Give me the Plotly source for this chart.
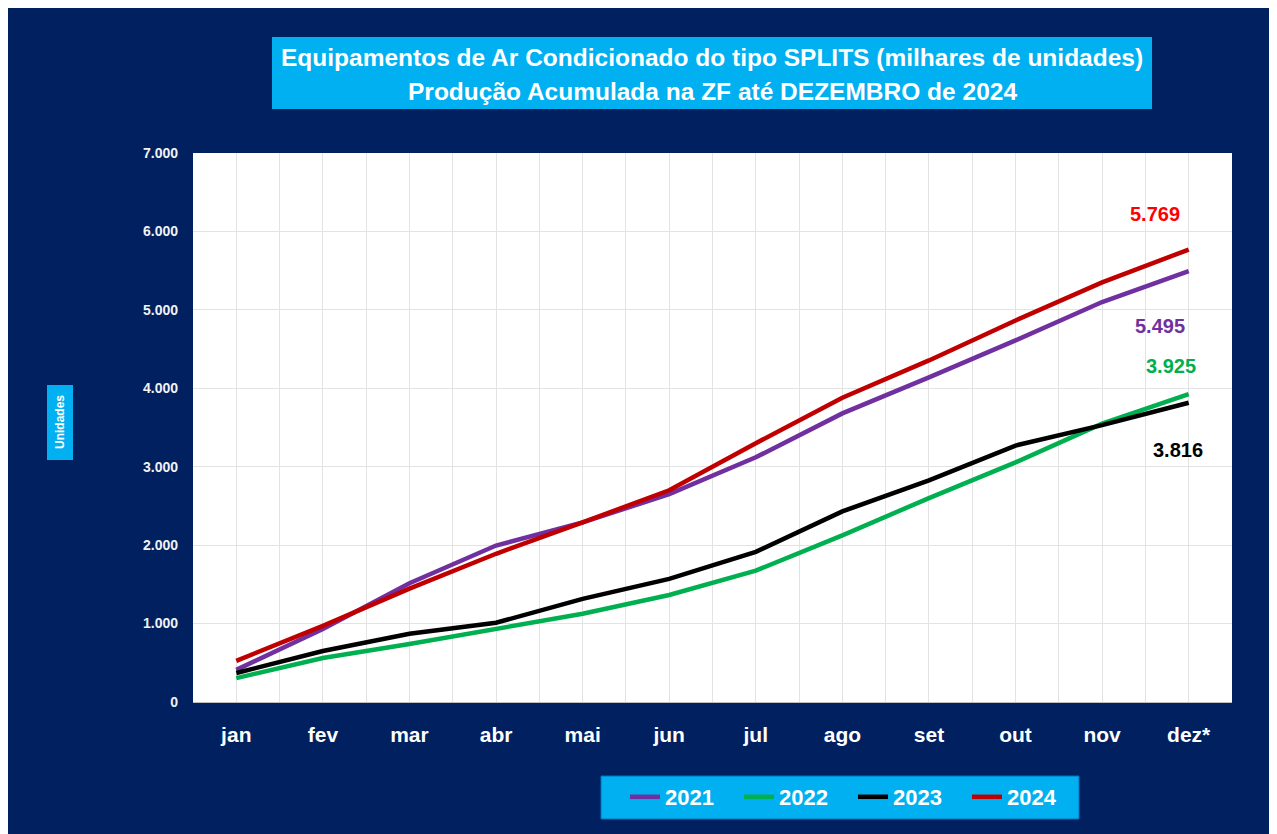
import plotly.graph_objects as go

months = ["jan", "fev", "mar", "abr", "mai", "jun", "jul", "ago", "set", "out", "nov", "dez*"]
s2021 = [410, 930, 1515, 1995, 2290, 2650, 3120, 3680, 4140, 4610, 5100, 5495]
s2022 = [305, 560, 740, 935, 1125, 1365, 1675, 2125, 2600, 3055, 3550, 3925]
s2023 = [370, 650, 870, 1010, 1315, 1570, 1915, 2430, 2825, 3270, 3530, 3816]
s2024 = [525, 970, 1445, 1890, 2290, 2700, 3300, 3880, 4355, 4865, 5350, 5769]
years = ["2021", "2022", "2023", "2024"]
series = [s2021, s2022, s2023, s2024]
line_colors = ["#7030A0", "#00B050", "#000000", "#C00000"]
label_colors = ["#7030A0", "#00B050", "#000000", "#FF0000"]
label_offsets = [(-29, -55), (-18, 28), (-11, -47), (-34, 36)]

OFF = 8  # page body margin
W, H = 1277 - OFF, 834 - OFF
# plot area in screen coordinates
L, R, T, B = 193, 1232, 153, 702
pw, ph = R - L, B - T

def px(x):
    return (x - L) / pw

def py(y):
    return (B - y) / ph

x = list(range(len(months)))
fig = go.Figure()
for name, vals, col in zip(years, series, line_colors):
    fig.add_trace(go.Scatter(x=x, y=vals, name=name, mode="lines",
                             line=dict(color=col, width=4.5)))

FONT = "Liberation Sans, Arial, sans-serif"
NAVY = "#002060"
shapes = [
    dict(type="rect", xref="paper", yref="paper", x0=px(272), x1=px(1152), y0=py(109), y1=py(37),
         fillcolor="#00B0F0", line=dict(width=0), layer="below"),
    dict(type="rect", xref="paper", yref="paper", x0=px(47), x1=px(73), y0=py(460), y1=py(385),
         fillcolor="#00B0F0", line=dict(width=0), layer="below"),
    dict(type="rect", xref="paper", yref="paper", x0=px(601), x1=px(1079), y0=py(819), y1=py(776),
         fillcolor="#00B0F0", line=dict(color="#0070C0", width=1), layer="below"),
]

annotations = [
    dict(xref="paper", yref="paper", x=px(712), y=py(57), xanchor="center", yanchor="middle",
         text="Equipamentos de Ar Condicionado do tipo SPLITS (milhares de unidades)",
         showarrow=False, font=dict(family=FONT, size=24.5, color="white", weight="bold")),
    dict(xref="paper", yref="paper", x=px(712), y=py(91), xanchor="center", yanchor="middle",
         text="Produção Acumulada na ZF até DEZEMBRO de 2024",
         showarrow=False, font=dict(family=FONT, size=24.5, color="white", weight="bold")),
    dict(xref="paper", yref="paper", x=px(60), y=py(422), xanchor="center", yanchor="middle",
         text="Unidades", textangle=-90,
         showarrow=False, font=dict(family=FONT, size=12, color="white", weight="bold")),
]
for vals, col, (dx, dy) in zip(series, label_colors, label_offsets):
    v = vals[-1]
    annotations.append(dict(x=x[-1], y=v, xref="x", yref="y", text=f"{v:,}".replace(",", "."),
                            showarrow=False, xshift=dx, yshift=dy, xanchor="center", yanchor="middle",
                            font=dict(family=FONT, size=20, color=col, weight="bold")))

fig.update_layout(
    width=W, height=H,
    margin=dict(l=L - OFF, r=W - (R - OFF), t=T - OFF, b=H - (B - OFF), pad=0),
    paper_bgcolor=NAVY, plot_bgcolor="white",
    separators=",.",
    shapes=shapes, annotations=annotations,
    showlegend=True,
    legend=dict(orientation="h", x=px(625), y=py(797), xanchor="left", yanchor="middle",
                bgcolor="rgba(0,0,0,0)", font=dict(family=FONT, size=22, color="white", weight="bold"),
                entrywidth=69, entrywidthmode="pixels", traceorder="normal"),
    xaxis=dict(range=[-0.5, 11.5], tickmode="array", tickvals=x, ticktext=months,
               showgrid=True, gridcolor="#E3E3E3", gridwidth=1, zeroline=False,
               minor=dict(tickmode="array", tickvals=[i + 0.5 for i in range(-1, 12)], showgrid=True,
                          gridcolor="#E3E3E3", gridwidth=1),
               showline=True, linecolor="#BFBFBF", linewidth=1, ticks="",
               ticklabelstandoff=14,
               tickfont=dict(family=FONT, size=21, color="white", weight="bold")),
    yaxis=dict(range=[0, 7000], tickmode="linear", tick0=0, dtick=1000, tickformat=",",
               showgrid=True, gridcolor="#E3E3E3", gridwidth=1, zeroline=False,
               showline=False, ticks="", ticklabelstandoff=14,
               tickfont=dict(family=FONT, size=14, color="#F2F2F2", weight="bold")),
)

fig.write_html("out.html")
